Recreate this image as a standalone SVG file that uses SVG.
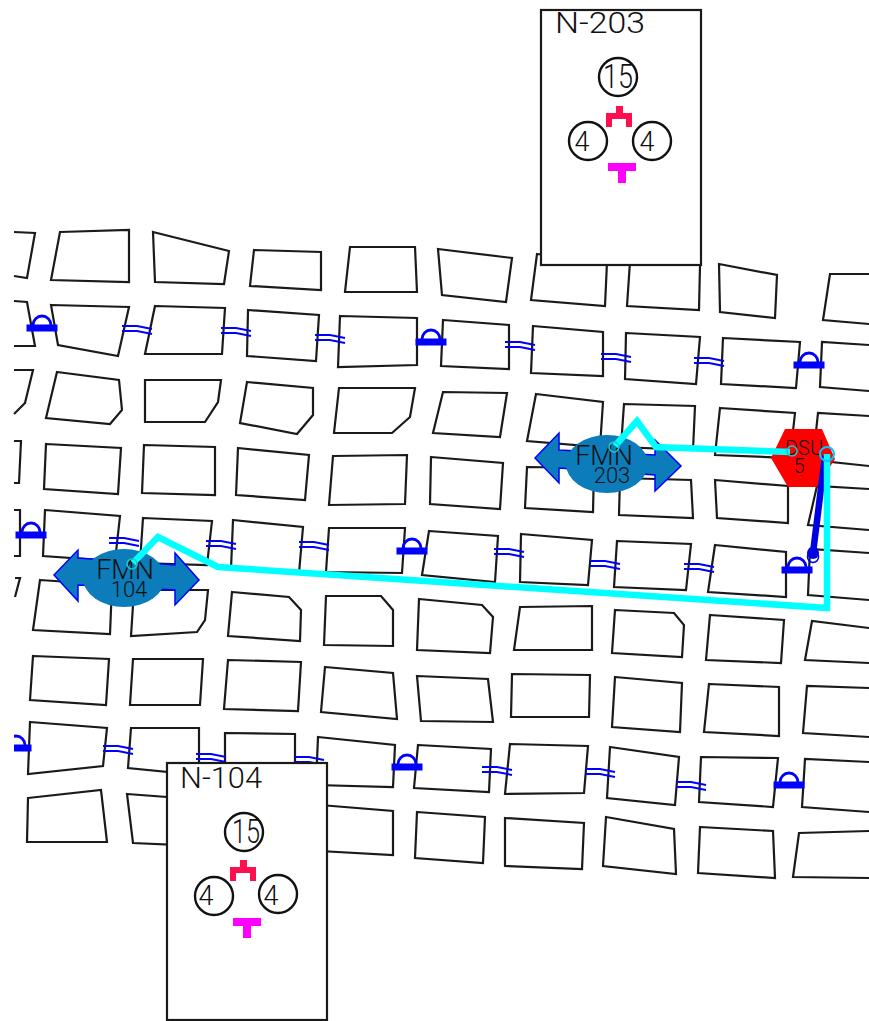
<svg xmlns="http://www.w3.org/2000/svg" xmlns:xlink="http://www.w3.org/1999/xlink" width="869" height="1021" viewBox="0 0 869 1021">
<style>
.b{fill:none;stroke:#1a1a1a;stroke-width:2.2}
.box{fill:#fff;stroke:#1a1a1a;stroke-width:2.2}
.c{fill:#fff;stroke:#111;stroke-width:2.4}
.t{font-family:"Roboto","Liberation Sans",Arial,sans-serif;font-weight:300;fill:#111;text-anchor:middle}
.lab{font-size:29px}
.num{font-size:27px}
.n15{font-size:34px}
.fm{font-size:27px}
.fn{font-size:22px}
.ar{fill:#0c7cba;stroke:#0000ff;stroke-width:1.5}
.ov{fill:#0c7cba}
.cy{fill:none;stroke:#00ffff;stroke-width:6.5;stroke-linejoin:miter}
.cr{fill:#ff0f4f}
.mg{fill:#ff00ff}
</style>
<defs>
<clipPath id="edge"><rect x="14" y="0" width="855" height="1021"/></clipPath>
<g id="lock"><rect x="-15.5" y="-3.5" width="31" height="7" fill="#0000ff"/><path d="M-9,-3 A9,9 0 0 1 9,-3" fill="none" stroke="#0000ff" stroke-width="2.8"/></g>
<g id="dbl" fill="none" stroke="#0000ff" stroke-width="2"><path d="M-15,-3 L0,-3 L15,0"/><path d="M-15,2 L0,2 L15,5"/></g>
<g id="crt"><path class="cr" d="M-3,-13 h7 v7 h9 v14 h-6 v-8 h-14 v8 h-6 v-14 h10 z"/></g>
<g id="mgt"><path class="mg" d="M-14,-10 h28 v8 h-10 v12 h-8 v-12 h-10 z"/></g>
</defs>
<rect width="869" height="1021" fill="#fff"/>
<g id="blocks">
<path class="b" d="M14,232 L35,233 L27,278 L14,276"/>
<polygon class="b" points="60,232 129,230 129,282 51,280"/>
<polygon class="b" points="153,232 229,251 224,284 155,282"/>
<polygon class="b" points="254,250 321,252 321,290 250,286"/>
<polygon class="b" points="350,247 415,247 417,292 345,292"/>
<polygon class="b" points="438,249 512,258 506,302 442,295"/>
<polygon class="b" points="537,254 607,262 605,306 531,300"/>
<polygon class="b" points="630,262 700,265 699,310 627,306"/>
<polygon class="b" points="719,264 777,275 775,318 720,312"/>
<path class="b" d="M869,274 L830,274 L823,320 L869,324"/>
<path class="b" d="M14,301 L27,302 L35,346 L14,346"/>
<polygon class="b" points="51,305 129,307 118,356 58,345"/>
<polygon class="b" points="155,306 225,308 222,354 145,354"/>
<polygon class="b" points="248,310 319,315 316,361 247,356"/>
<polygon class="b" points="340,316 417,318 417,365 338,367"/>
<polygon class="b" points="443,320 509,325 509,369 441,366"/>
<polygon class="b" points="533,326 603,332 603,376 531,373"/>
<polygon class="b" points="626,333 700,337 696,384 625,379"/>
<polygon class="b" points="723,338 800,342 796,388 721,384"/>
<path class="b" d="M869,345 L822,342 L820,387 L869,391"/>
<path class="b" d="M14,370 L33,370 L25,403 L14,414"/>
<polygon class="b" points="57,372 119,380 122,410 110,424 46,418"/>
<polygon class="b" points="145,380 221,380 218,402 205,422 145,422"/>
<polygon class="b" points="247,382 313,388 313,415 297,434 240,423"/>
<polygon class="b" points="339,388 415,388 410,417 392,433 334,433"/>
<polygon class="b" points="443,392 507,393 500,437 433,433"/>
<polygon class="b" points="536,394 603,402 600,447 527,441"/>
<polygon class="b" points="624,404 695,406 693,450 621,447"/>
<polygon class="b" points="720,408 795,413 790,458 715,455"/>
<path class="b" d="M869,416 L818,413 L813,460 L869,466"/>
<path class="b" d="M14,441 L21,441 L19,483 L14,483"/>
<polygon class="b" points="46,444 121,448 118,494 44,489"/>
<polygon class="b" points="144,445 215,447 215,495 142,493"/>
<polygon class="b" points="238,448 309,455 305,500 236,495"/>
<polygon class="b" points="333,456 407,455 405,504 329,505"/>
<polygon class="b" points="431,457 503,463 500,509 430,504"/>
<polygon class="b" points="527,467 594,468 593,512 525,508"/>
<polygon class="b" points="620,478 691,480 693,518 619,515"/>
<polygon class="b" points="715,480 788,486 788,523 717,518"/>
<path class="b" d="M869,489 L817,486 L808,525 L869,530"/>
<path class="b" d="M14,510 L20,510 L20,556 L14,556"/>
<polygon class="b" points="45,510 120,516 115,561 43,556"/>
<polygon class="b" points="143,518 212,521 207,565 140,563"/>
<polygon class="b" points="233,520 303,527 299,573 231,569"/>
<polygon class="b" points="329,528 405,528 402,573 326,572"/>
<polygon class="b" points="429,531 498,536 495,582 422,575"/>
<polygon class="b" points="521,534 592,540 588,585 520,582"/>
<polygon class="b" points="617,541 691,544 686,590 614,587"/>
<polygon class="b" points="715,545 786,552 786,597 708,592"/>
<path class="b" d="M869,553 L810,549 L808,595 L869,600"/>
<path class="b" d="M15,578 L20,578 L15,597"/>
<polygon class="b" points="40,580 112,585 110,634 33,630"/>
<polygon class="b" points="134,590 208,590 205,620 197,632 131,636"/>
<polygon class="b" points="232,592 289,597 301,610 300,641 228,636"/>
<polygon class="b" points="326,596 381,596 393,610 393,646 324,645"/>
<polygon class="b" points="419,599 482,605 493,617 490,653 417,650"/>
<polygon class="b" points="520,607 592,606 592,650 514,650"/>
<polygon class="b" points="615,610 674,613 684,625 682,657 612,653"/>
<polygon class="b" points="710,615 784,620 781,663 706,660"/>
<path class="b" d="M869,628 L812,621 L805,660 L869,663"/>
<polygon class="b" points="33,656 109,659 106,705 30,700"/>
<polygon class="b" points="133,659 203,659 200,705 130,705"/>
<polygon class="b" points="228,660 301,662 298,711 224,709"/>
<polygon class="b" points="325,667 393,673 397,719 321,712"/>
<polygon class="b" points="417,676 488,679 493,722 421,721"/>
<polygon class="b" points="512,674 590,675 589,717 511,717"/>
<polygon class="b" points="615,677 682,683 680,732 612,727"/>
<polygon class="b" points="709,684 779,687 779,736 704,732"/>
<path class="b" d="M869,688 L807,686 L803,733 L869,737"/>
<polygon class="b" points="30,722 107,728 103,766 28,774"/>
<polygon class="b" points="131,728 199,728 199,775 128,768"/>
<polygon class="b" points="225,733 295,734 295,785 225,785"/>
<polygon class="b" points="318,737 395,745 393,787 316,785"/>
<polygon class="b" points="418,745 491,749 489,792 414,788"/>
<polygon class="b" points="510,744 588,746 584,793 505,794"/>
<polygon class="b" points="610,747 679,757 675,805 607,798"/>
<polygon class="b" points="701,757 778,758 773,807 699,802"/>
<path class="b" d="M869,762 L805,759 L802,807 L869,812"/>
<polygon class="b" points="28,798 101,790 107,842 27,842"/>
<polygon class="b" points="127,794 180,798 180,845 133,843"/>
<polygon class="b" points="320,805 393,811 393,855 320,851"/>
<polygon class="b" points="417,812 485,817 483,863 415,858"/>
<polygon class="b" points="505,818 584,823 582,869 505,866"/>
<polygon class="b" points="606,817 674,829 676,874 603,866"/>
<polygon class="b" points="700,827 773,831 775,878 698,873"/>
<path class="b" d="M869,831 L799,833 L793,877 L869,878"/>
</g>
<g id="locks" clip-path="url(#edge)">
<use xlink:href="#lock" href="#lock" x="42" y="328"/>
<use xlink:href="#lock" href="#lock" x="431" y="342"/>
<use xlink:href="#lock" href="#lock" x="809" y="365"/>
<use xlink:href="#lock" href="#lock" x="31" y="535"/>
<use xlink:href="#lock" href="#lock" x="412" y="551"/>
<use xlink:href="#lock" href="#lock" x="797" y="570"/>
<use xlink:href="#lock" href="#lock" x="16" y="748"/>
<use xlink:href="#lock" href="#lock" x="407" y="767"/>
<use xlink:href="#lock" href="#lock" x="789" y="785"/>
</g>
<g id="crossings">
<use xlink:href="#dbl" href="#dbl" x="137" y="329"/>
<use xlink:href="#dbl" href="#dbl" x="236" y="331"/>
<use xlink:href="#dbl" href="#dbl" x="330" y="338"/>
<use xlink:href="#dbl" href="#dbl" x="520" y="345"/>
<use xlink:href="#dbl" href="#dbl" x="616" y="357"/>
<use xlink:href="#dbl" href="#dbl" x="709" y="361"/>
<use xlink:href="#dbl" href="#dbl" x="124" y="541"/>
<use xlink:href="#dbl" href="#dbl" x="221" y="544"/>
<use xlink:href="#dbl" href="#dbl" x="314" y="545"/>
<use xlink:href="#dbl" href="#dbl" x="509" y="552"/>
<use xlink:href="#dbl" href="#dbl" x="605" y="564"/>
<use xlink:href="#dbl" href="#dbl" x="699" y="567"/>
<use xlink:href="#dbl" href="#dbl" x="118" y="749"/>
<use xlink:href="#dbl" href="#dbl" x="211" y="757"/>
<use xlink:href="#dbl" href="#dbl" x="309" y="760"/>
<use xlink:href="#dbl" href="#dbl" x="497" y="770"/>
<use xlink:href="#dbl" href="#dbl" x="600" y="772"/>
<use xlink:href="#dbl" href="#dbl" x="691" y="785"/>
</g>
<g id="N-203">
<rect class="box" x="541" y="10" width="160" height="255"/>
<text class="t lab" x="600" y="33" textLength="90" lengthAdjust="spacingAndGlyphs">N-203</text>
<circle class="c" cx="618" cy="77" r="19"/>
<text class="t n15" x="618" y="88" textLength="30" lengthAdjust="spacingAndGlyphs">15</text>
<circle class="c" cx="588" cy="141" r="19"/>
<text class="t num" x="582" y="151">4</text>
<circle class="c" cx="652" cy="141" r="19"/>
<text class="t num" x="647" y="151">4</text>
<use xlink:href="#crt" href="#crt" x="619" y="119"/>
<use xlink:href="#mgt" href="#mgt" x="622" y="173"/>
</g>
<g id="N-104">
<rect class="box" x="167" y="763" width="160" height="257"/>
<text class="t lab" x="221" y="788" textLength="82" lengthAdjust="spacingAndGlyphs">N-104</text>
<circle class="c" cx="244" cy="832" r="19"/>
<text class="t n15" x="246" y="843" textLength="28" lengthAdjust="spacingAndGlyphs">15</text>
<circle class="c" cx="214" cy="896" r="19"/>
<text class="t num" x="206" y="905">4</text>
<circle class="c" cx="278" cy="894" r="19"/>
<text class="t num" x="271" y="905">4</text>
<use xlink:href="#crt" href="#crt" x="243" y="873"/>
<use xlink:href="#mgt" href="#mgt" x="247" y="928"/>
</g>
<g id="FMN-203">
<polygon class="ar" points="535,458 559,433 559,450 655,455 655,440 681,466 655,491 655,475 559,468 559,483"/>
<ellipse class="ov" cx="607" cy="464" rx="41" ry="29"/>
<text class="t"><tspan class="fm" x="604" y="465">FMN</tspan><tspan class="fn" x="612" y="483">203</tspan></text>
</g>
<g id="FMN-104">
<polygon class="ar" points="54,575 78,550 78,558 175,565 175,553 199,580 175,605 175,590 78,585 78,601"/>
<ellipse class="ov" cx="124" cy="578" rx="41" ry="29"/>
<text class="t"><tspan class="fm" x="125" y="579">FMN</tspan><tspan class="fn" x="129" y="597">104</tspan></text>
</g>
<g id="DSU-5">
<polygon points="785,429 822,429 835,459 817,487 788,487 771,458" fill="#ff0000"/>
<text class="t" font-size="20"><tspan x="804" y="455">DSU</tspan><tspan x="799" y="473">5</tspan></text>
</g>
<g id="connectors">
<path d="M825,456 L813,553" fill="none" stroke="#0000e0" stroke-width="6.5"/>
<circle cx="813" cy="553" r="6" fill="#0000e0"/>
<circle cx="813" cy="557" r="5.5" fill="none" stroke="#0000ff" stroke-width="1.5"/>
<path class="cy" d="M615,446 L637,421 L656,447 L790,452"/>
<path class="cy" d="M133,563 L158,537 L218,567 L827,608 L827,454"/>
<circle cx="792" cy="451" r="5" fill="none" stroke="#1cc8c8" stroke-width="1.6"/>
<circle cx="614" cy="447" r="5" fill="none" stroke="#1cc8c8" stroke-width="1.6"/>
<circle cx="132" cy="564" r="5" fill="none" stroke="#1cc8c8" stroke-width="1.6"/>
<circle cx="827" cy="454" r="7" fill="none" stroke="#00c8ff" stroke-width="2"/>
</g>
</svg>
